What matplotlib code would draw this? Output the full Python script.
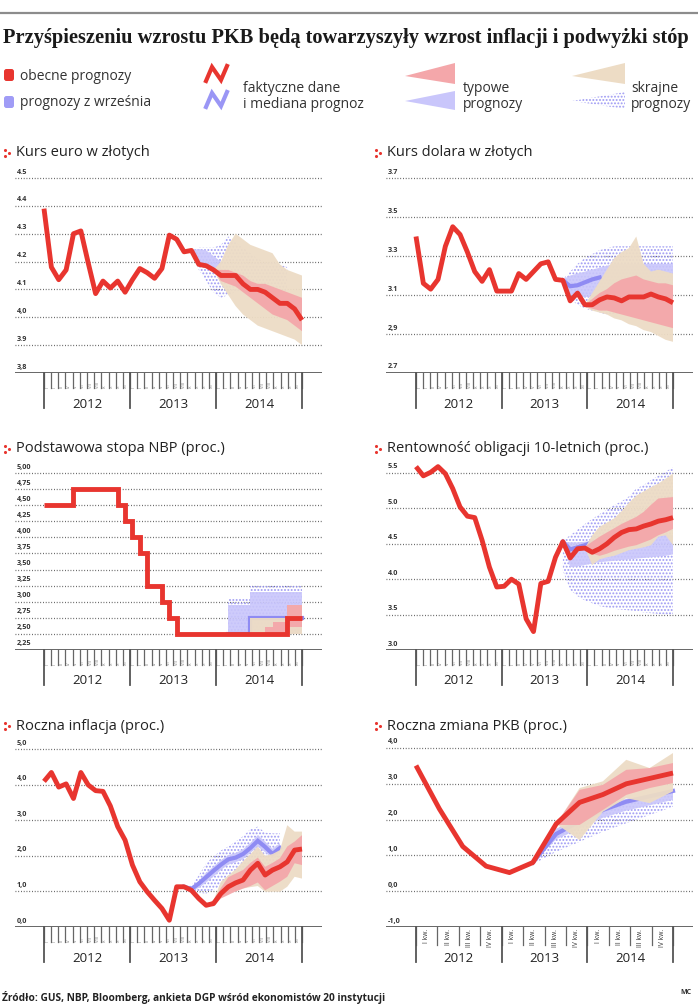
import matplotlib
matplotlib.use("Agg")
import matplotlib.pyplot as plt
from matplotlib.patches import Polygon, FancyBboxPatch
from matplotlib.transforms import offset_copy

W, H = 698, 1008
RED = "#e8352f"
PINK = "#f4a7aa"
BEIGE = "#eddcc5"
LAV = "#c9c6fb"
PURPLE = "#8f8bf3"
DOTS = "#9d99f3"
GRID = "#555555"

# ---- data -------------------------------------------------------------
years = ["2012", "2013", "2014"]
months = ["I", "II", "III", "IV", "V", "VI", "VII", "VIII", "IX", "X", "XI", "XII"]
quarters = ["I kw.", "II kw.", "III kw.", "IV kw."]

# Kurs euro w złotych (monthly, Jan 2012 - Dec 2014)
eur_ticks = [3.8, 3.9, 4.0, 4.1, 4.2, 4.3, 4.4, 4.5]
eur_labels = ["3,8", "3.9", "4,0", "4.1", "4.2", "4.3", "4.4", "4.5"]
eur_line = [4.39, 4.18, 4.135, 4.17, 4.30, 4.31, 4.195, 4.085, 4.13, 4.105, 4.13, 4.09,
            4.135, 4.175, 4.16, 4.14, 4.175, 4.295, 4.28, 4.235, 4.24, 4.19, 4.185, 4.17,
            4.15, 4.15, 4.15, 4.12, 4.10, 4.10, 4.09, 4.07, 4.05, 4.05, 4.03, 3.99]
eur_sep_ext = (20, [4.24, 4.17, 4.13, 4.09, 4.07, 4.08, 4.09, 4.09, 4.08, 4.08, 4.07, 4.07, 4.07, 4.08],
               [4.24, 4.25, 4.25, 4.25, 4.26, 4.29, 4.27, 4.25, 4.23, 4.21, 4.20, 4.20, 4.19, 4.18])
eur_sep_typ = (20, [4.24, 4.20, 4.18, 4.17, 4.16], [4.24, 4.245, 4.24, 4.22, 4.20])
eur_sep_med = None
eur_cur_ext = (23, [4.17, 4.12, 4.08, 4.04, 4.01, 3.99, 3.97, 3.96, 3.95, 3.94, 3.93, 3.92, 3.90],
               [4.17, 4.20, 4.26, 4.30, 4.28, 4.26, 4.25, 4.24, 4.23, 4.19, 4.17, 4.16, 4.15])
eur_cur_typ = (23, [4.17, 4.13, 4.12, 4.11, 4.09, 4.07, 4.05, 4.03, 4.01, 4.00, 3.99, 3.97, 3.95],
               [4.17, 4.17, 4.17, 4.16, 4.15, 4.13, 4.12, 4.12, 4.11, 4.10, 4.09, 4.08, 4.07])

# Kurs dolara w złotych
usd_ticks = [2.7, 2.9, 3.1, 3.3, 3.5, 3.7]
usd_labels = ["2.7", "2,9", "3.1", "3.3", "3.5", "3.7"]
usd_line = [3.40, 3.16, 3.13, 3.18, 3.35, 3.45, 3.41, 3.32, 3.22, 3.17, 3.23, 3.12,
            3.12, 3.12, 3.21, 3.18, 3.22, 3.26, 3.27, 3.18, 3.175, 3.07, 3.11, 3.05,
            3.05, 3.075, 3.09, 3.085, 3.07, 3.09, 3.09, 3.09, 3.105, 3.09, 3.08, 3.06]
usd_sep_ext = (20, [3.17, 3.08, 3.05, 3.03, 3.02, 3.01, 3.00, 3.00, 3.00, 3.00, 3.00, 3.00, 3.00, 3.00, 3.00, 3.00],
               [3.18, 3.22, 3.26, 3.29, 3.31, 3.33, 3.34, 3.35, 3.35, 3.35, 3.35, 3.35, 3.35, 3.35, 3.35, 3.35])
usd_sep_typ = (20, [3.17, 3.10, 3.09, 3.09, 3.09, 3.10, 3.10, 3.10, 3.10, 3.10, 3.10, 3.10, 3.10, 3.10, 3.10, 3.10],
               [3.18, 3.20, 3.21, 3.22, 3.23, 3.24, 3.25, 3.26, 3.26, 3.26, 3.26, 3.26, 3.26, 3.26, 3.26, 3.26])
usd_sep_med = (20, [3.175, 3.145, 3.15, 3.165, 3.18, 3.19])
usd_cur_ext = (23, [3.04, 3.02, 3.01, 3.00, 2.98, 2.97, 2.95, 2.94, 2.92, 2.91, 2.89, 2.87, 2.86],
               [3.05, 3.11, 3.17, 3.23, 3.29, 3.32, 3.34, 3.40, 3.26, 3.22, 3.23, 3.22, 3.21])
usd_cur_typ = (23, [3.04, 3.03, 3.02, 3.02, 3.01, 3.00, 2.99, 2.98, 2.97, 2.96, 2.95, 2.94, 2.93],
               [3.05, 3.08, 3.11, 3.13, 3.16, 3.18, 3.19, 3.20, 3.18, 3.17, 3.16, 3.16, 3.15])

# Podstawowa stopa NBP (proc.)
nbp_ticks = [2.25, 2.5, 2.75, 3.0, 3.25, 3.5, 3.75, 4.0, 4.25, 4.5, 4.75, 5.0]
nbp_labels = ["2,25", "2,50", "2,75", "3,00", "3,25", "3,50", "3,75", "4,00", "4,25", "4,50", "4,75", "5,00"]
nbp_line = [4.5, 4.5, 4.5, 4.5, 4.75, 4.75, 4.75, 4.75, 4.75, 4.75, 4.5, 4.25,
            4.0, 3.75, 3.25, 3.25, 3.0, 2.75, 2.5, 2.5, 2.5, 2.5, 2.5, 2.5,
            2.5, 2.5, 2.5, 2.5, 2.5, 2.5, 2.5, 2.5, 2.5, 2.75, 2.75, 2.75]
nbp_sep_ext = (25, [2.5, 2.5, 2.5, 2.5, 2.5, 2.5, 2.5, 2.5, 2.5, 2.5, 2.5],
               [3.05, 3.05, 3.05, 3.25, 3.25, 3.25, 3.25, 3.25, 3.25, 3.25, 3.25])
nbp_sep_typ = (25, [2.5, 2.5, 2.5, 2.5, 2.5, 2.5, 2.5, 2.5, 2.5, 2.5, 2.5],
               [2.95, 2.95, 2.95, 3.15, 3.15, 3.15, 3.15, 3.15, 3.15, 3.15, 3.15])
nbp_sep_med = (25, [2.5, 2.5, 2.5, 2.75, 2.75, 2.75, 2.75, 2.75, 2.75, 2.75, 2.75])
nbp_cur_ext = (28, [2.5, 2.5, 2.5, 2.5, 2.5, 2.5, 2.5, 2.5],
               [2.75, 2.75, 2.75, 2.75, 2.75, 2.95, 2.95, 2.95])
nbp_cur_typ = (28, [2.5, 2.5, 2.5, 2.5, 2.5, 2.6, 2.6, 2.6],
               [2.5, 2.5, 2.6, 2.68, 2.68, 2.95, 2.95, 2.95])

# Rentowność obligacji 10-letnich (proc.)
bond_ticks = [3.0, 3.5, 4.0, 4.5, 5.0, 5.5]
bond_labels = ["3.0", "3.5", "4.0", "4.5", "5.0", "5.5"]
bond_line = [5.59, 5.46, 5.51, 5.59, 5.49, 5.28, 5.02, 4.89, 4.87, 4.55, 4.17, 3.89,
             3.90, 4.00, 3.93, 3.44, 3.26, 3.94, 3.97, 4.31, 4.53, 4.30, 4.43, 4.44,
             4.38, 4.43, 4.50, 4.59, 4.66, 4.70, 4.71, 4.75, 4.78, 4.82, 4.84, 4.87]
bond_sep_ext = (20, [4.12, 3.85, 3.76, 3.70, 3.66, 3.62, 3.60, 3.58, 3.57, 3.56, 3.55, 3.53, 3.52, 3.51, 3.50, 3.49],
                [4.55, 4.62, 4.70, 4.78, 4.85, 4.92, 4.98, 5.05, 5.10, 5.17, 5.28, 5.33, 5.40, 5.46, 5.52, 5.58])
bond_sep_typ = (20, [4.53, 4.17, 4.18, 4.20, 4.22, 4.24, 4.25, 4.26, 4.27, 4.28, 4.29, 4.30, 4.31, 4.32, 4.33, 4.35],
                [4.53, 4.52, 4.52, 4.53, 4.54, 4.55, 4.56, 4.57, 4.58, 4.59, 4.60, 4.61, 4.62, 4.63, 4.64, 4.62])
bond_sep_med = (20, [4.53, 4.42, 4.45, 4.48, 4.52, 4.53])
bond_cur_ext = (23, [4.44, 4.20, 4.28, 4.31, 4.33, 4.37, 4.41, 4.43, 4.45, 4.48, 4.60, 4.62, 4.48],
                [4.44, 4.62, 4.74, 4.80, 4.86, 4.96, 5.08, 5.18, 5.24, 5.30, 5.35, 5.42, 5.49])
bond_cur_typ = (23, [4.42, 4.36, 4.33, 4.36, 4.40, 4.43, 4.46, 4.48, 4.52, 4.56, 4.62, 4.66, 4.71],
                [4.46, 4.53, 4.60, 4.66, 4.72, 4.78, 4.83, 4.88, 4.95, 5.05, 5.14, 5.15, 5.16])

# Roczna inflacja (proc.)
infl_ticks = [0.0, 1.0, 2.0, 3.0, 4.0, 5.0]
infl_labels = ["0,0", "1,0", "2,0", "3,0", "4,0", "5,0"]
infl_line = [4.09, 4.34, 3.93, 4.02, 3.61, 4.34, 3.99, 3.83, 3.81, 3.40, 2.82, 2.44,
             1.74, 1.27, 0.99, 0.75, 0.52, 0.19, 1.13, 1.13, 1.03, 0.80, 0.61, 0.66,
             0.94, 1.13, 1.24, 1.32, 1.60, 1.79, 1.46, 1.60, 1.69, 1.83, 2.16, 2.19]
infl_sep_ext = (19, [1.13, 0.99, 0.96, 0.94, 1.05, 1.15, 1.30, 1.41, 1.55, 1.65, 1.69, 1.75, 1.75, 1.75],
                [1.13, 1.17, 1.45, 1.79, 1.98, 2.15, 2.26, 2.40, 2.55, 2.75, 2.82, 2.65, 2.63, 2.63])
infl_sep_typ = (19, [1.13, 1.00, 1.10, 1.25, 1.42, 1.60, 1.75, 1.82, 1.90, 2.08, 2.25, 2.10, 1.92, 2.08],
                [1.13, 1.12, 1.30, 1.52, 1.70, 1.88, 2.02, 2.08, 2.18, 2.36, 2.58, 2.40, 2.20, 2.35])
infl_sep_med = (19, [1.13, 1.07, 1.22, 1.40, 1.58, 1.75, 1.90, 1.95, 2.05, 2.22, 2.42, 2.25, 2.05, 2.22])
infl_cur_ext = (22, [0.61, 0.62, 0.85, 0.95, 1.00, 1.08, 1.12, 1.15, 0.99, 0.99, 0.99, 1.13, 1.41, 1.36],
                [0.61, 0.75, 1.27, 1.45, 1.62, 1.85, 2.05, 2.26, 2.00, 2.05, 2.16, 2.86, 2.68, 2.68])
infl_cur_typ = (22, [0.61, 0.58, 0.80, 0.90, 1.00, 1.08, 1.15, 1.25, 1.03, 1.15, 1.27, 1.41, 1.79, 1.74],
                [0.61, 0.75, 1.10, 1.40, 1.50, 1.60, 1.80, 1.95, 1.69, 1.80, 1.93, 2.26, 2.40, 2.58])

# Roczna zmiana PKB (proc.), quarterly
gdp_ticks = [-1.0, 0.0, 1.0, 2.0, 3.0, 4.0]
gdp_labels = ["-1,0", "0,0", "1,0", "2,0", "3,0", "4,0"]
gdp_line = [3.51, 2.30, 1.25, 0.70, 0.52, 0.80, 1.88, 2.48, 2.70, 3.00, 3.15, 3.30]
gdp_sep_ext = (5, [0.75, 1.10, 1.38, 1.66, 1.90, 2.13, 2.36], [0.80, 1.75, 2.05, 2.40, 2.58, 2.68, 2.82])
gdp_sep_typ = (5, [0.80, 1.45, 1.75, 2.05, 2.25, 2.40, 2.55], [0.80, 1.75, 2.00, 2.40, 2.58, 2.70, 2.85])
gdp_sep_med = (5, [0.80, 1.60, 1.95, 2.27, 2.50, 2.65, 2.80])
gdp_cur_ext = (6, [1.88, 1.43, 2.22, 2.60, 2.46, 2.79], [1.88, 2.88, 3.07, 3.67, 3.44, 3.86])
gdp_cur_typ = (6, [1.85, 1.85, 2.27, 2.69, 2.88, 3.02], [1.88, 2.83, 2.97, 3.39, 3.44, 3.58])

TITLE = "Przyśpieszeniu wzrostu PKB będą towarzyszyły wzrost inflacji i podwyżki stóp"
SOURCE = "Źródło: GUS, NBP, Bloomberg, ankieta DGP wśród ekonomistów 20 instytucji"

# ---- figure -----------------------------------------------------------
plt.rcParams["font.family"] = ["Open Sans", "DejaVu Sans"]
plt.rcParams["hatch.linewidth"] = 0.9

fig = plt.figure(figsize=(W / 100, H / 100), dpi=100)


def _xs(band):
    return list(range(band[0], band[0] + len(band[1])))


def panel(box, ticks, labels, line, sep_ext, sep_typ, sep_med, cur_ext, cur_typ,
          quarterly=False, step=False):
    xl, xr, xs, xe, yt, yb = box
    pad = 16
    n = len(line) - 1
    ax = fig.add_axes([xl / W, 1 - yb / H, (xr - xl) / W, (yb - yt + pad) / H])
    vb, vt = ticks[0], ticks[-1]
    upp = (vt - vb) / (yb - yt)
    ax.set_ylim(vb, vt + pad * upp)
    k = n / (xe - xs)
    x0, x1 = (xl - xs) * k, n + (xr - xe) * k
    ax.set_xlim(x0, x1)
    ax.axis("off")

    # grid and tick labels
    lab_tr = offset_copy(ax.get_yaxis_transform(), fig=fig, x=2, y=2.5, units="dots")
    for v, s in zip(ticks, labels):
        if v != vb:
            ax.hlines(v, x0, x1, color=GRID, lw=0.9, linestyles=(0, (0.7, 1.5)), zorder=1)
        ax.text(0, v, s, transform=lab_tr, fontsize=5.2, fontweight="bold",
                color="#333333", va="bottom", ha="left")
    ax.axhline(vb, color="#666666", lw=1.4, zorder=6)

    ds = "steps-post" if step else "default"
    st = "post" if step else None
    if sep_ext:
        ax.fill_between(_xs(sep_ext), sep_ext[1], sep_ext[2], facecolor="none",
                        edgecolor=DOTS, hatch=".....", lw=0, step=st, zorder=2)
    if sep_typ:
        ax.fill_between(_xs(sep_typ), sep_typ[1], sep_typ[2], facecolor=LAV,
                        lw=0, step=st, alpha=0.9, zorder=3)
    if sep_med:
        ax.plot(_xs((sep_med[0], sep_med[1])), sep_med[1], color=PURPLE, lw=3,
                drawstyle=ds, solid_joinstyle="miter", zorder=4)
    if cur_ext:
        ax.fill_between(_xs(cur_ext), cur_ext[1], cur_ext[2], facecolor=BEIGE,
                        lw=0, step=st, alpha=0.95, zorder=4.5)
    if cur_typ:
        ax.fill_between(_xs(cur_typ), cur_typ[1], cur_typ[2], facecolor=PINK,
                        lw=0, step=st, alpha=0.95, zorder=4.6)
    ax.plot(range(len(line)), line, color=RED, lw=3.5, drawstyle=ds,
            solid_joinstyle="miter" if step else "round", solid_capstyle="butt", zorder=5)

    # time axis below the baseline
    tr = ax.get_xaxis_transform()
    h = yb - yt + pad

    def fy(px):
        return -px / h

    per = 4 if quarterly else 12
    names = quarters if quarterly else months
    cells = 3 * per
    tick_len = 18 if quarterly else 15
    for c in range(cells + 1):
        xc = c * n / cells
        ax.plot([xc, xc], [0, fy(tick_len)], transform=tr, color="#666666",
                lw=0.9, clip_on=False, zorder=6)
    for c in range(cells):
        xc = (c + 0.5) * n / cells
        if quarterly:
            ax.text(xc, fy(2), names[c % per], transform=tr, rotation=90,
                    fontsize=4.8, color="#333333", ha="center", va="top")
        else:
            ax.text(xc, fy(15), names[c % per], transform=tr, rotation=90,
                    fontsize=3.0, color="#7a7a7a", ha="center", va="bottom")
    for j in range(4):
        xj = j * n / 3
        ax.plot([xj, xj], [0, fy(35)], transform=tr, color="#555555",
                lw=1.3, clip_on=False, zorder=6)
    for j, yr in enumerate(years):
        ax.text((j + 0.5) * n / 3, fy(31), yr, transform=tr, fontsize=9.5,
                color="#222222", ha="center", va="center")
    return ax


panel((15, 322, 44, 302, 178, 373), eur_ticks, eur_labels, eur_line,
      eur_sep_ext, eur_sep_typ, eur_sep_med, eur_cur_ext, eur_cur_typ)
panel((386, 693, 416, 673, 178, 373), usd_ticks, usd_labels, usd_line,
      usd_sep_ext, usd_sep_typ, usd_sep_med, usd_cur_ext, usd_cur_typ)
panel((15, 322, 44, 302, 473, 650), nbp_ticks, nbp_labels, nbp_line,
      nbp_sep_ext, nbp_sep_typ, nbp_sep_med, nbp_cur_ext, nbp_cur_typ, step=True)
panel((386, 693, 416, 673, 473, 650), bond_ticks, bond_labels, bond_line,
      bond_sep_ext, bond_sep_typ, bond_sep_med, bond_cur_ext, bond_cur_typ)
panel((15, 322, 44, 302, 749, 927), infl_ticks, infl_labels, infl_line,
      infl_sep_ext, infl_sep_typ, infl_sep_med, infl_cur_ext, infl_cur_typ)
panel((386, 693, 416, 673, 748, 927), gdp_ticks, gdp_labels, gdp_line,
      gdp_sep_ext, gdp_sep_typ, gdp_sep_med, gdp_cur_ext, gdp_cur_typ, quarterly=True)

# ---- overlay in pixel coordinates: title, legend, panel titles, footer ----
ov = fig.add_axes([0, 0, 1, 1], zorder=10)
ov.set_xlim(0, W)
ov.set_ylim(H, 0)
ov.axis("off")
ov.patch.set_alpha(0)

ov.plot([0, W], [13, 13], color="#8c8c8c", lw=1.6)
t = ov.text(3, 38, TITLE, fontsize=14, fontweight="bold", family="Liberation Serif",
            va="center", ha="left", color="#1a1a1a")
fig.canvas.draw()
t.set_fontsize(14 * 686 / t.get_window_extent().width)

# legend
ov.add_patch(FancyBboxPatch((4, 69), 10, 12, boxstyle="round,pad=0,rounding_size=2.5",
                            color=RED, lw=0))
ov.add_patch(FancyBboxPatch((4, 96), 10, 12, boxstyle="round,pad=0,rounding_size=2.5",
                            color="#a09cf6", lw=0))
ov.text(20, 76, "obecne prognozy", fontsize=10, color="#333333", va="center")
ov.text(20, 103, "prognozy z września", fontsize=10, color="#333333", va="center")
ov.plot([206, 212, 221, 227], [81, 67, 80, 66], color=RED, lw=3, solid_joinstyle="miter")
ov.plot([206, 212, 221, 227], [107, 93, 106, 92], color="#9a96f5", lw=3, solid_joinstyle="miter")
ov.text(243, 89, "faktyczne dane", fontsize=10, color="#333333", va="center")
ov.text(243, 104, "i mediana prognoz", fontsize=10, color="#333333", va="center")
ov.add_patch(Polygon([(405, 76), (455, 63), (455, 84)], closed=True, color=PINK, lw=0))
ov.add_patch(Polygon([(405, 101), (455, 91), (455, 110)], closed=True, color=LAV, lw=0))
ov.text(463, 89, "typowe", fontsize=10, color="#333333", va="center")
ov.text(463, 104, "prognozy", fontsize=10, color="#333333", va="center")
ov.add_patch(Polygon([(572, 76), (625, 63), (625, 84)], closed=True, color=BEIGE, lw=0))
ov.add_patch(Polygon([(572, 101), (625, 92), (625, 109)], closed=True, facecolor="none",
                     edgecolor=DOTS, hatch=".....", lw=0))
ov.text(631, 89, "skrajne", fontsize=10, color="#333333", va="center")
ov.text(631, 104, "prognozy", fontsize=10, color="#333333", va="center")

# panel titles with the red dot marker
panel_titles = [(5, 153, "Kurs euro w złotych"), (376, 153, "Kurs dolara w złotych"),
                (5, 449, "Podstawowa stopa NBP (proc.)"),
                (376, 449, "Rentowność obligacji 10-letnich (proc.)"),
                (5, 726, "Roczna inflacja (proc.)"), (376, 726, "Roczna zmiana PKB (proc.)")]
for x, y, s in panel_titles:
    ov.scatter([x, x, x + 4], [y - 3, y + 3, y], s=5, color=RED, lw=0)
    ov.text(x + 11, y, s, fontsize=10.5, color="#222222", va="center")

ov.text(2, 997, SOURCE, fontsize=7.3, fontweight="bold", color="#222222", va="center")
ov.text(691, 993, "MC", fontsize=5, fontweight="bold", color="#333333", ha="right", va="center")

fig.savefig("out.png", dpi=100)
